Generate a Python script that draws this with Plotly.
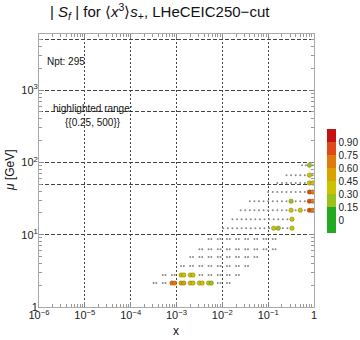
import plotly.graph_objects as go

# ---- data ----
# one row of points per mu value: log10(x) of each point and its |S_f|
MU = [2.14, 2.77, 3.68, 4.9, 6.3, 8.7, 12.3, 16.4, 21.8, 29.1, 38.9, 51.8, 66.6, 91.5]

LOGX = [
    [-3.50, -3.44, -3.30, -3.24, -3.10, -3.04, -2.90, -2.84, -2.70, -2.64, -2.50, -2.44, -2.30, -2.24, -2.10, -2.04, -1.90, -1.84],
    [-3.30, -3.24, -3.10, -3.04, -2.90, -2.84, -2.70, -2.64, -2.50, -2.44, -2.30, -2.24, -2.10, -2.04, -1.90, -1.84, -1.70, -1.64],
    [-2.90, -2.84, -2.70, -2.64, -2.50, -2.44, -2.30, -2.24, -2.10, -2.04, -1.90, -1.84, -1.70, -1.64, -1.50, -1.44],
    [-2.70, -2.64, -2.50, -2.44, -2.30, -2.24, -2.10, -2.04, -1.90, -1.84, -1.70, -1.64, -1.50, -1.44, -1.30, -1.24],
    [-2.50, -2.44, -2.30, -2.24, -2.10, -2.04, -1.90, -1.84, -1.70, -1.64, -1.50, -1.44, -1.30, -1.24, -1.10, -1.04, -0.90, -0.84],
    [-2.30, -2.24, -2.10, -2.04, -1.90, -1.84, -1.70, -1.64, -1.50, -1.44, -1.30, -1.24, -1.10, -1.04, -0.90, -0.84],
    [-1.98, -1.88, -1.78, -1.68, -1.58, -1.48, -1.38, -1.28, -1.18, -1.08, -0.98, -0.88, -0.78, -0.68, -0.58, -0.48],
    [-1.78, -1.68, -1.58, -1.48, -1.38, -1.28, -1.18, -1.08, -0.98, -0.88, -0.78, -0.68, -0.58, -0.48],
    [-1.60, -1.50, -1.40, -1.30, -1.20, -1.10, -1.00, -0.90, -0.80, -0.70, -0.60, -0.50, -0.40, -0.30, -0.20, -0.10, -0.03],
    [-1.40, -1.30, -1.20, -1.10, -1.00, -0.90, -0.80, -0.70, -0.60, -0.50, -0.40, -0.30, -0.20, -0.10, -0.03],
    [-1.00, -0.90, -0.80, -0.70, -0.60, -0.50, -0.40, -0.30, -0.20, -0.10, -0.03],
    [-0.80, -0.70, -0.60, -0.50, -0.40, -0.30, -0.20, -0.10, -0.03],
    [-0.60, -0.50, -0.40, -0.30, -0.20, -0.10, -0.03],
    [-0.26, -0.18, -0.10, -0.03],
]

SVAL = [
    [0.06, 0.05, 0.08, 0.07, 0.68, 0.62, 0.58, 0.52, 0.40, 0.38, 0.35, 0.33, 0.30, 0.28, 0.10, 0.08, 0.06, 0.05],
    [0.05, 0.06, 0.10, 0.12, 0.35, 0.33, 0.32, 0.30, 0.15, 0.12, 0.10, 0.08, 0.07, 0.06, 0.05, 0.05, 0.04, 0.04],
    [0.05, 0.06, 0.10, 0.12, 0.14, 0.12, 0.10, 0.09, 0.08, 0.07, 0.06, 0.05, 0.05, 0.04, 0.04, 0.03],
    [0.05, 0.06, 0.10, 0.12, 0.14, 0.12, 0.10, 0.09, 0.08, 0.07, 0.06, 0.05, 0.05, 0.04, 0.04, 0.03],
    [0.05, 0.06, 0.10, 0.12, 0.14, 0.12, 0.10, 0.09, 0.08, 0.07, 0.06, 0.05, 0.05, 0.04, 0.04, 0.03, 0.05, 0.06],
    [0.05, 0.06, 0.10, 0.12, 0.14, 0.12, 0.10, 0.09, 0.08, 0.07, 0.06, 0.05, 0.05, 0.04, 0.06, 0.08],
    [0.05, 0.06, 0.10, 0.12, 0.14, 0.12, 0.10, 0.09, 0.08, 0.07, 0.12, 0.30, 0.27, 0.14, 0.16, 0.30],
    [0.05, 0.06, 0.10, 0.12, 0.14, 0.12, 0.10, 0.09, 0.08, 0.07, 0.12, 0.14, 0.18, 0.31],
    [0.05, 0.06, 0.10, 0.12, 0.14, 0.12, 0.10, 0.09, 0.08, 0.07, 0.12, 0.31, 0.18, 0.34, 0.20, 0.88, 0.72],
    [0.05, 0.06, 0.10, 0.12, 0.14, 0.12, 0.10, 0.09, 0.08, 0.28, 0.12, 0.20, 0.22, 0.80, 0.66],
    [0.05, 0.06, 0.10, 0.12, 0.14, 0.12, 0.10, 0.12, 0.18, 0.84, 0.68],
    [0.05, 0.06, 0.10, 0.12, 0.14, 0.12, 0.15, 0.36, 0.30],
    [0.05, 0.06, 0.10, 0.12, 0.14, 0.32, 0.20],
    [0.05, 0.06, 0.29, 0.20],
]

X_TICKS = [1e-6, 1e-5, 1e-4, 1e-3, 1e-2, 1e-1, 1]
X_TICKTEXT = ["10<sup>−6</sup>", "10<sup>−5</sup>", "10<sup>−4</sup>", "10<sup>−3</sup>",
              "10<sup>−2</sup>", "10<sup>−1</sup>", "1"]
Y_TICKS = [1, 10, 50, 100, 500, 1000, 5000]
Y_TICKTEXT = ["1", "10<sup>1</sup>", "", "10<sup>2</sup>", "", "10<sup>3</sup>", ""]
CB_TICKS = [0, 0.15, 0.30, 0.45, 0.60, 0.75, 0.90]
CB_TICKTEXT = ["0", "0.15", "0.30", "0.45", "0.60", "0.75", "0.90"]
HIGHLIGHT_MIN = 0.25

# ---- split into plain / highlighted ----
gx, gy, hx, hy, hv = [], [], [], [], []
for mu, xs, vs in zip(MU, LOGX, SVAL):
    for lx, v in zip(xs, vs):
        if v >= HIGHLIGHT_MIN:
            hx.append(10 ** lx); hy.append(mu); hv.append(v)
        else:
            gx.append(10 ** lx); gy.append(mu)

bins = ["#22aa22", "#22aa22", "#99c31c", "#c8c400", "#d6a300", "#e07a0c", "#e04818", "#c41212"]
lo, hi = -0.15, 1.05
cs = []
for i, c in enumerate(bins):
    a = i / len(bins); b = (i + 1) / len(bins)
    cs.append([a, c]); cs.append([b, c])

W, H = 360, 340
PX0, PX1, PY0, PY1 = 39, 314, 34, 307   # plot area in pixels
PW, PH = PX1 - PX0, PY1 - PY0


def px(xs):   # pixel x -> paper
    return (xs - PX0) / PW


def py(ys):   # pixel y -> paper
    return (PY1 - ys) / PH


fig = go.Figure()
fig.add_trace(go.Scatter(x=gx, y=gy, mode="markers",
                         marker=dict(size=2, color="#8a8a8a"), showlegend=False,
                         hoverinfo="skip"))
fig.add_trace(go.Scatter(
    x=hx, y=hy, mode="markers", showlegend=False,
    marker=dict(size=4.5, color=hv, colorscale=cs, cmin=lo, cmax=hi,
                line=dict(width=0.5, color="rgba(90,50,0,0.55)"),
                colorbar=dict(
                    x=px(327), xanchor="left", xpad=0,
                    y=py(233), yanchor="bottom", ypad=0,
                    lenmode="pixels", len=104,
                    thicknessmode="pixels", thickness=9,
                    outlinewidth=0, ticks="",
                    tickmode="array", tickvals=CB_TICKS, ticktext=CB_TICKTEXT,
                    tickfont=dict(size=10, color="#222", family="Liberation Sans"),
                ))))

minor_x = [k * 10.0 ** e for e in range(-6, 0) for k in range(2, 10)]
minor_y = [k * 10.0 ** e for e in range(0, 4) for k in range(2, 10) if k * 10.0 ** e < 6000]

axis_common = dict(
    showline=True, linecolor="#aaaaaa", linewidth=1, mirror="allticks",
    ticks="inside", ticklen=5, tickcolor="#888888",
    tickfont=dict(size=11, color="#222", family="Liberation Sans"),
    zeroline=False, ticklabelstandoff=-2,
)

fig.update_xaxes(type="log", range=[-6, 0], tickmode="array",
                 tickvals=X_TICKS, ticktext=X_TICKTEXT,
                 showgrid=True, gridcolor="#444444", griddash="2px,2px", gridwidth=1,
                 minor=dict(tickmode="array", tickvals=minor_x, ticks="inside",
                            ticklen=3, tickcolor="#999999", showgrid=False),
                 **axis_common)
fig.update_yaxes(type="log", range=[0, 3.775], tickmode="array",
                 tickvals=Y_TICKS, ticktext=Y_TICKTEXT,
                 showgrid=True, gridcolor="#444444", griddash="4px,2px", gridwidth=1,
                 minor=dict(tickmode="array", tickvals=minor_y, ticks="inside",
                            ticklen=3, tickcolor="#999999", showgrid=False),
                 **axis_common)

txt = dict(xref="paper", yref="paper", showarrow=False, xanchor="center", yanchor="middle")
fig.update_layout(
    width=W, height=H,
    margin=dict(l=PX0, r=W - PX1, t=PY0, b=H - PY1, autoexpand=False),
    paper_bgcolor="white", plot_bgcolor="white",
    font=dict(family="Liberation Sans", color="#222"),
    hovermode=False,
    annotations=[
        dict(text="| <i>S<sub>f</sub></i> | for ⟨<i>x</i><sup>3</sup>⟩<i>s</i><sub>+</sub>, LHeCEIC250−cut",
             x=px(160), y=py(11), font=dict(size=15, color="#111"), **txt),
        dict(text="Npt: 295", x=px(66), y=py(61), font=dict(size=10, color="#111"), **txt),
        dict(text="highlighted range:", x=px(93), y=py(108), font=dict(size=10, color="#111"), **txt),
        dict(text="{{0.25, 500}}", x=px(93), y=py(123), font=dict(size=10, color="#111"), **txt),
        dict(text="x", x=px(176), y=py(331), font=dict(size=12, color="#111"), **txt),
        dict(text="<i>μ</i> [GeV]", x=px(10), y=py(170), textangle=-90,
             font=dict(size=12, color="#111"), **txt),
    ],
)

fig.write_html("out.html", config={"displayModeBar": False, "staticPlot": True},
               post_script="document.body.style.margin='0';document.body.style.padding='0';")
